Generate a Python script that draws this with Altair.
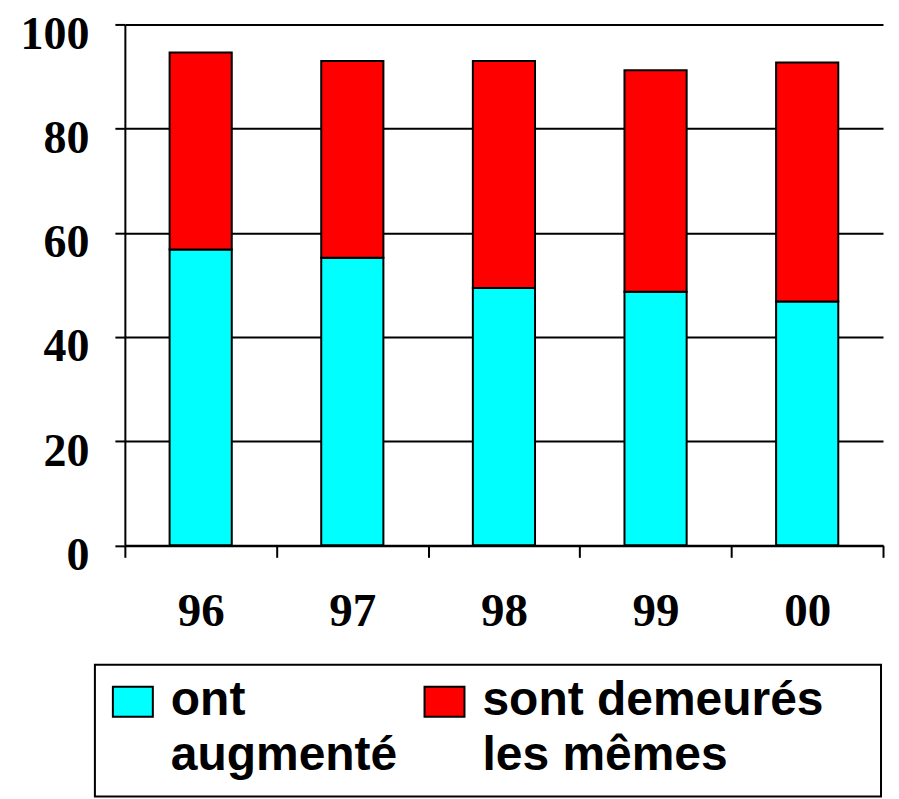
import altair as alt
import pandas as pd

years = ["96", "97", "98", "99", "00"]
series = ["ont|augmenté", "sont demeurés|les mêmes"]
augmente = [56.8, 55.2, 49.4, 48.7, 46.8]
memes = [37.8, 37.8, 43.6, 42.5, 45.9]
colors = ["#00FFFF", "#FF0000"]

rows = []
for i, y in enumerate(years):
    rows.append({"year": y, "series": series[0], "value": augmente[i], "ord": 0})
    rows.append({"year": y, "series": series[1], "value": memes[i], "ord": 1})
df = pd.DataFrame(rows)

# 40x30 swatch drawn at the left/top of a 64px nominal legend symbol box
rect_path = "M-1,-0.875L0.25,-0.875L0.25,0.0625L-1,0.0625Z"
pad = "\u00a0" * 3 + "\u200b"

chart = alt.Chart(df).mark_bar(
    width={"band": 0.41}, stroke="black", strokeWidth=2, opacity=1
).encode(
    x=alt.X("year:N", sort=years,
            scale=alt.Scale(paddingInner=0, paddingOuter=0),
            axis=alt.Axis(title=None, labelAngle=0, tickBand="extent", grid=False,
                          tickSize=12, labelPadding=31, labelBaseline="top",
                          labelFont="Liberation Serif", labelFontWeight="bold",
                          labelFontSize=47)),
    y=alt.Y("value:Q", stack=True,
            scale=alt.Scale(domain=[0, 100], nice=False),
            axis=alt.Axis(title=None, values=[0, 20, 40, 60, 80, 100], grid=True,
                          tickSize=10, labelPadding=26, labelOffset=10,
                          labelBaseline="middle",
                          labelFont="Liberation Serif", labelFontWeight="bold",
                          labelFontSize=46)),
    color=alt.Color("series:N", sort=series,
                    scale=alt.Scale(domain=series, range=colors),
                    legend=alt.Legend(
                        title=None,
                        orient="none", legendX=-30, legendY=641,
                        direction="horizontal", columns=2, columnPadding=23,
                        padding=17, strokeColor="black",
                        labelFont="Liberation Sans", labelFontWeight="bold",
                        labelFontSize=48, labelColor="black", labelLimit=700,
                        labelOffset={"expr": "-7"}, labelBaseline="alphabetic",
                        labelExpr="split(replace(datum.label, 'demeurés', 'demeurés" + pad + "'), '|')",
                        symbolType=rect_path, symbolSize=4096,
                        symbolStrokeColor="black", symbolStrokeWidth=2,
                        symbolOpacity=1)),
    order=alt.Order("ord:Q", sort="ascending"),
).properties(
    width=759, height=521.5,
    autosize=alt.AutoSizeParams(type="none"),
    padding={"left": 117, "top": 16, "right": 8, "bottom": 253.5},
).configure(
    style={"guide-label": {"lineHeight": 55}}
).configure_view(
    stroke=None
).configure_axis(
    domainColor="black", domainWidth=2, tickColor="black", tickWidth=2,
    gridColor="black", gridWidth=2, gridOpacity=1, labelColor="black",
).configure_legend(
    strokeWidth=2
)

chart.save("out.html", embed_options={"renderer": "svg", "actions": False})
